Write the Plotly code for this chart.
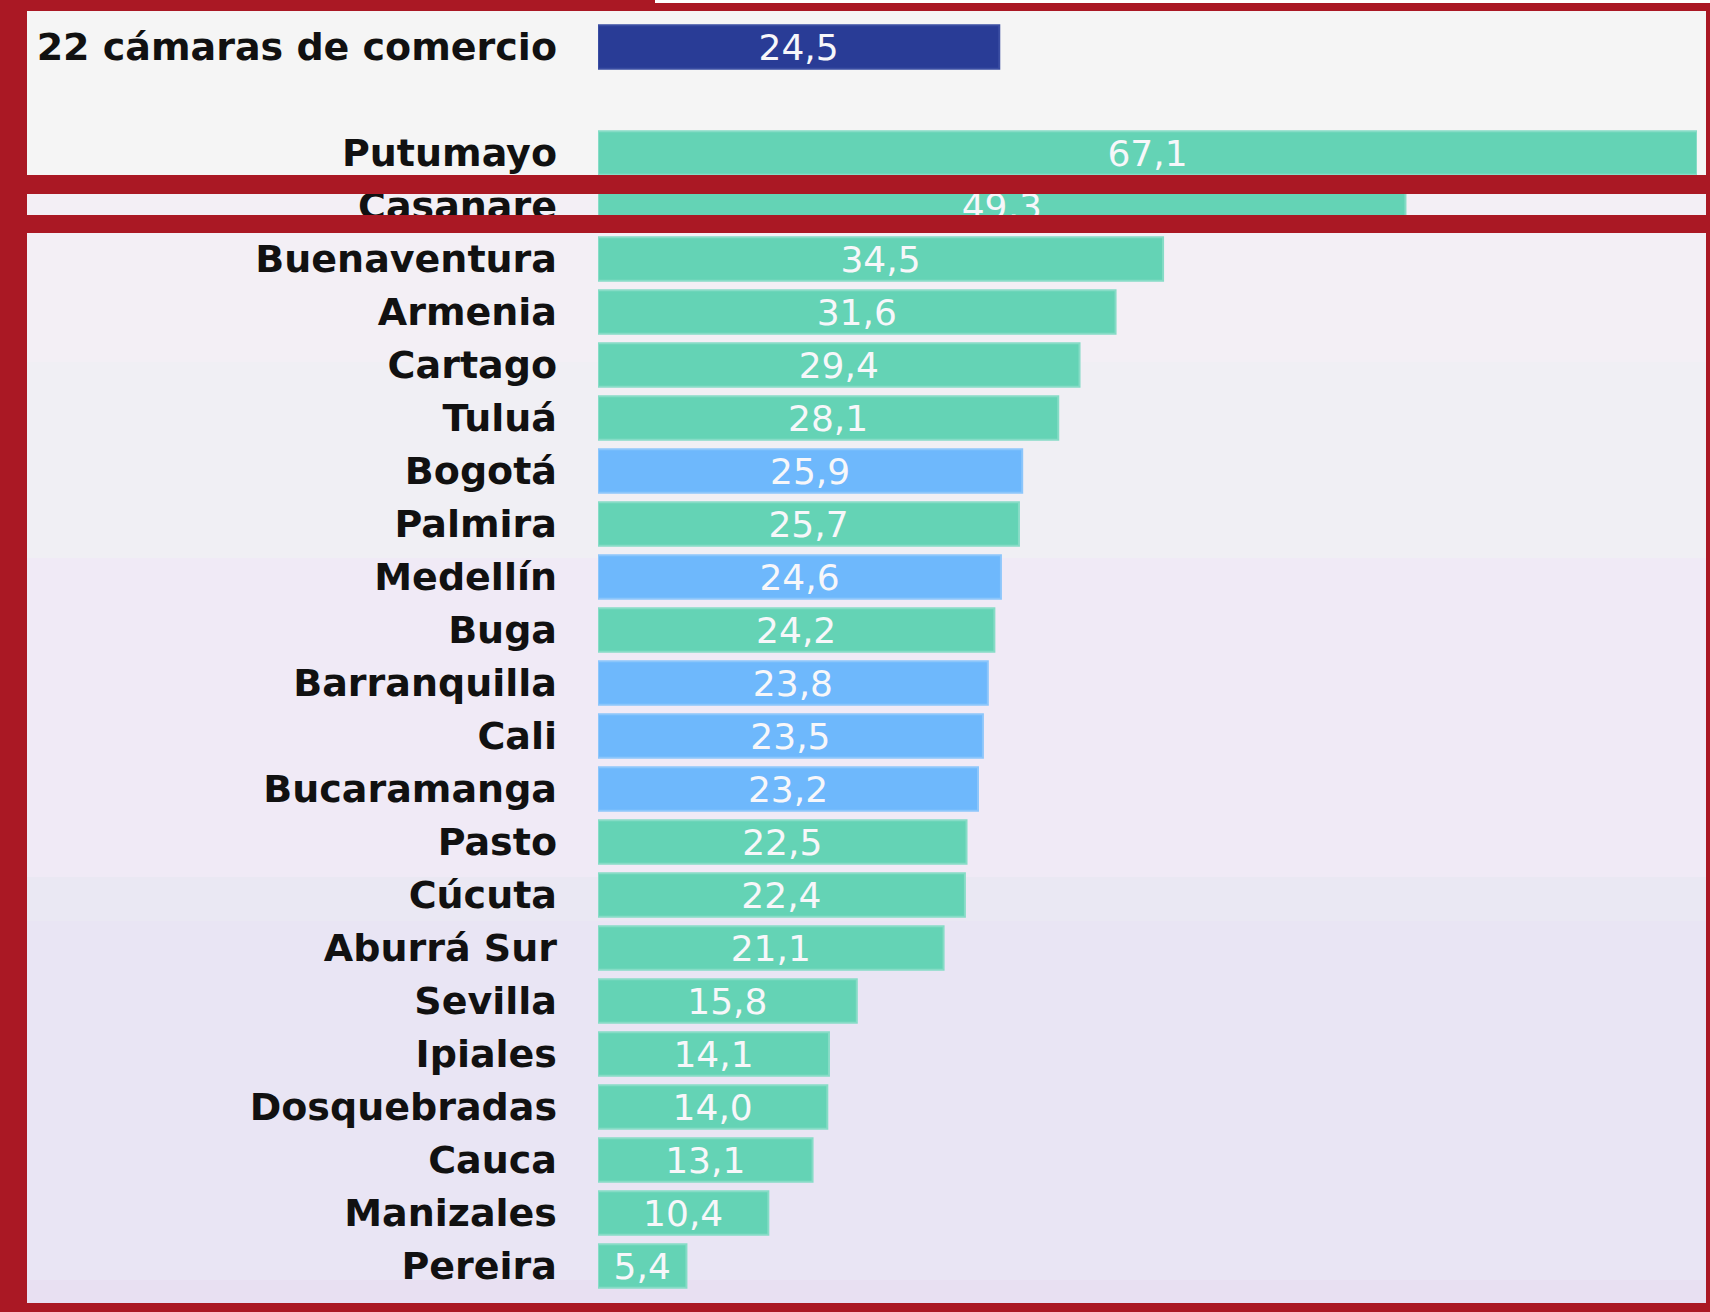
import plotly.graph_objects as go

# rows top to bottom; " " is the empty slot under the total
camaras = ["22 cámaras de comercio", " ", "Putumayo", "Casanare", "Buenaventura",
           "Armenia", "Cartago", "Tuluá", "Bogotá", "Palmira", "Medellín", "Buga",
           "Barranquilla", "Cali", "Bucaramanga", "Pasto", "Cúcuta", "Aburrá Sur",
           "Sevilla", "Ipiales", "Dosquebradas", "Cauca", "Manizales", "Pereira"]
valores = [24.5, None, 67.1, 49.3, 34.5, 31.6, 29.4, 28.1, 25.9, 25.7, 24.6, 24.2,
           23.8, 23.5, 23.2, 22.5, 22.4, 21.1, 15.8, 14.1, 14.0, 13.1, 10.4, 5.4]
grupo = ["total", "", "otra", "otra", "otra", "otra", "otra", "otra", "grande", "otra",
         "grande", "otra", "grande", "grande", "grande", "otra", "otra", "otra",
         "otra", "otra", "otra", "otra", "otra", "otra"]

colores = {"total": "#293C96", "grande": "#6EB8FC", "otra": "#64D3B5", "": "rgba(0,0,0,0)"}
bordes = {"total": "#3A4DA2", "grande": "#8CC6FB", "otra": "#86DCC6", "": "rgba(0,0,0,0)"}

W, H = 1710, 1312
ROJO = "#AA1824"


def py(px):
    # pixel row -> paper coordinate
    return 1 - px / H


def px_x(px):
    return px / W


etiquetas = ["" if v is None else f"{v:.1f}".replace(".", ",") for v in valores]

fig = go.Figure()
fig.add_trace(go.Bar(
    x=valores, y=camaras, orientation="h",
    marker=dict(color=[colores[g] for g in grupo],
                line=dict(color=[bordes[g] for g in grupo], width=2)),
    text=etiquetas, textposition="inside", insidetextanchor="middle",
    textangle=0, constraintext="none",
    textfont=dict(family="DejaVu Sans", size=36, color="#F7F7FA"),
    hoverinfo="skip",
))

# background bands (soft gradient of the original)
fondo = [(11, 175, "#F5F5F5"), (175, 362, "#F3EFF5"), (362, 558, "#F0EFF4"),
         (558, 877, "#F0EAF6"), (877, 921, "#EAE8F3"), (921, 1280, "#E9E5F4"),
         (1280, 1303, "#E8E0F2")]
shapes = []
for y0, y1, c in fondo:
    shapes.append(dict(type="rect", xref="paper", yref="paper", x0=0, x1=1,
                       y0=py(y1), y1=py(y0), fillcolor=c, line_width=0, layer="below"))

# red frame and the two bands across the top rows
marco = [(0, 0, W, 11), (0, 0, 27, H), (0, 1303, W, H), (1706, 0, W, H),
         (0, 175, W, 194), (0, 215, W, 233)]
for x0, y0, x1, y1 in marco:
    shapes.append(dict(type="rect", xref="paper", yref="paper",
                       x0=px_x(x0), x1=px_x(x1), y0=py(y1), y1=py(y0),
                       fillcolor=ROJO, line_width=0, layer="above"))
shapes.append(dict(type="rect", xref="paper", yref="paper", x0=px_x(655), x1=1,
                   y0=py(3), y1=1, fillcolor="#FFFFFF", line_width=0, layer="above"))

fig.update_layout(
    width=W, height=H,
    margin=dict(l=0, r=0, t=0, b=0),
    paper_bgcolor="rgba(0,0,0,0)", plot_bgcolor="rgba(0,0,0,0)",
    bargap=0.18, showlegend=False,
    shapes=shapes,
    xaxis=dict(domain=[px_x(598), px_x(1697)], range=[0, 67.1], visible=False),
    yaxis=dict(domain=[py(1292.5), py(20.5)], autorange="reversed",
               categoryorder="array", categoryarray=camaras,
               showgrid=False, zeroline=False, showline=False, ticks="",
               ticklabelstandoff=40,
               tickfont=dict(family="DejaVu Sans", size=38, color="#111111", weight="bold")),
)

fig.write_html("out.html", config={"displayModeBar": False},
               post_script="document.body.style.margin='0';")
